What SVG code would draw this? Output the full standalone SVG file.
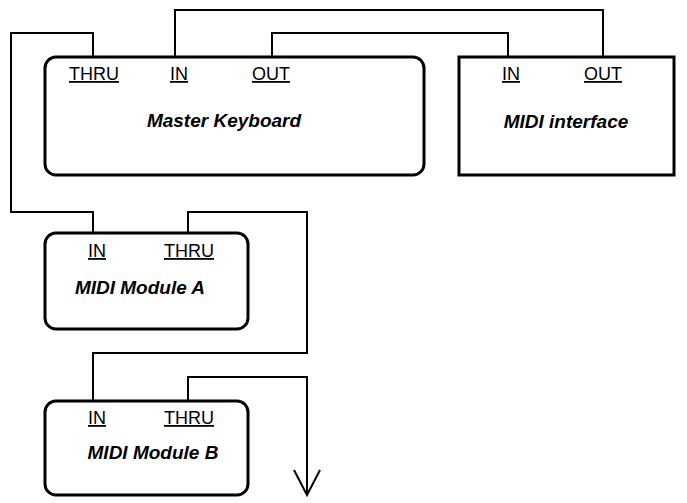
<svg xmlns="http://www.w3.org/2000/svg" width="687" height="503" viewBox="0 0 687 503">
<style>
.box{fill:#fff;stroke:#000;stroke-width:3}
.wire{fill:none;stroke:#000;stroke-width:2}
.port{font-family:"Liberation Sans",Arial,sans-serif;font-size:18px;text-decoration:underline;fill:#000}
.name{font-family:"Liberation Sans",Arial,sans-serif;font-size:19px;font-weight:bold;font-style:italic;fill:#000}
</style>
<rect width="687" height="503" fill="#fff"/>
<g id="connectors">
<polyline class="wire" points="175,57 175,10 603,10 603,57"/>
<polyline class="wire" points="272,57 272,33 508,33 508,57"/>
<polyline class="wire" points="93,57 93,33 11,33 11,212 93,212 93,233"/>
<polyline class="wire" points="188,233 188,212 307,212 307,353 93,353 93,401"/>
<polyline class="wire" points="188,401 188,377 307,377 307,494"/>
<polyline class="wire" points="294,470 307,495 320,470"/>
</g>
<g id="master-keyboard">
<rect class="box" x="45" y="57" width="379" height="118" rx="11"/>
<text class="port" x="69" y="80">THRU</text>
<text class="port" x="170" y="80">IN</text>
<text class="port" x="252" y="80">OUT</text>
<text class="name" x="224" y="127" text-anchor="middle">Master Keyboard</text>
</g>
<g id="midi-interface">
<rect class="box" x="459" y="57" width="215" height="118"/>
<text class="port" x="502" y="80">IN</text>
<text class="port" x="584" y="80">OUT</text>
<text class="name" x="566" y="128" text-anchor="middle">MIDI interface</text>
</g>
<g id="module-a">
<rect class="box" x="45" y="233" width="203" height="96" rx="11"/>
<text class="port" x="88" y="257">IN</text>
<text class="port" x="164" y="257">THRU</text>
<text class="name" x="140" y="294" text-anchor="middle">MIDI Module A</text>
</g>
<g id="module-b">
<rect class="box" x="45" y="401" width="203" height="94" rx="11"/>
<text class="port" x="88" y="424">IN</text>
<text class="port" x="164" y="424">THRU</text>
<text class="name" x="153" y="459" text-anchor="middle">MIDI Module B</text>
</g>
</svg>
